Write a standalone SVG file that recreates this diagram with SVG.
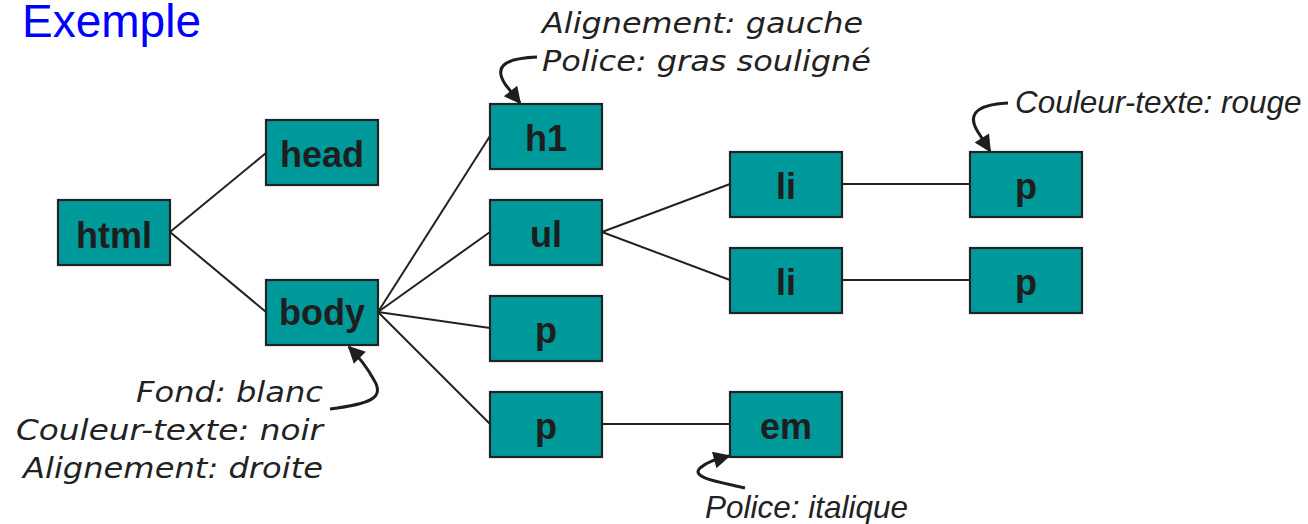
<svg xmlns="http://www.w3.org/2000/svg" width="1308" height="524" viewBox="0 0 1308 524">
<style>
.box{fill:#009999;stroke:#222;stroke-width:2.2}
.lbl{font-family:"Liberation Sans",Arial,sans-serif;font-weight:bold;font-size:36px;fill:#1e1e1e;text-anchor:middle}
.edge{stroke:#222;stroke-width:2;fill:none}
.ann{font-family:"DejaVu Sans",Verdana,sans-serif;font-style:italic;font-size:28px;fill:#222}
.ann2{font-family:"Liberation Sans",Arial,sans-serif;font-style:italic;font-size:31.5px;fill:#222}
.callout{stroke:#1e1e1e;stroke-width:3;fill:none}
</style>
<defs>
<marker id="ah" viewBox="0 0 10 10" refX="9" refY="5" markerWidth="19" markerHeight="17" markerUnits="userSpaceOnUse" orient="auto">
<path d="M0,0 L10,5 L0,10 Z" fill="#1e1e1e"/>
</marker>
</defs>
<text x="22" y="37" font-family="Liberation Sans,Arial,sans-serif" font-size="46" fill="#0000ff">Exemple</text>
<g id="connectors">
<line class="edge" x1="170" y1="232" x2="266" y2="153"/>
<line class="edge" x1="170" y1="232" x2="266" y2="312"/>
<line class="edge" x1="378" y1="312" x2="490" y2="136"/>
<line class="edge" x1="378" y1="312" x2="490" y2="232"/>
<line class="edge" x1="378" y1="312" x2="490" y2="328"/>
<line class="edge" x1="378" y1="312" x2="490" y2="424"/>
<line class="edge" x1="602" y1="232" x2="730" y2="184"/>
<line class="edge" x1="602" y1="232" x2="730" y2="280"/>
<line class="edge" x1="842" y1="184" x2="970" y2="184"/>
<line class="edge" x1="842" y1="280" x2="970" y2="280"/>
<line class="edge" x1="602" y1="424" x2="730" y2="424"/>
</g>
<g id="n-html"><rect class="box" x="58" y="200" width="112" height="65"/><text class="lbl" x="114" y="248">html</text></g>
<g id="n-head"><rect class="box" x="266" y="120" width="112" height="65"/><text class="lbl" x="322" y="167">head</text></g>
<g id="n-body"><rect class="box" x="266" y="280" width="112" height="65"/><text class="lbl" x="322" y="325">body</text></g>
<g id="n-h1"><rect class="box" x="490" y="104" width="112" height="65"/><text class="lbl" x="546" y="151">h1</text></g>
<g id="n-ul"><rect class="box" x="490" y="200" width="112" height="65"/><text class="lbl" x="546" y="247">ul</text></g>
<g id="n-p1"><rect class="box" x="490" y="296" width="112" height="65"/><text class="lbl" x="546" y="343">p</text></g>
<g id="n-p2"><rect class="box" x="490" y="392" width="112" height="65"/><text class="lbl" x="546" y="439">p</text></g>
<g id="n-li1"><rect class="box" x="730" y="152" width="112" height="65"/><text class="lbl" x="786" y="199">li</text></g>
<g id="n-li2"><rect class="box" x="730" y="248" width="112" height="65"/><text class="lbl" x="786" y="295">li</text></g>
<g id="n-em"><rect class="box" x="730" y="392" width="112" height="65"/><text class="lbl" x="786" y="439">em</text></g>
<g id="n-p3"><rect class="box" x="970" y="152" width="112" height="65"/><text class="lbl" x="1026" y="199">p</text></g>
<g id="n-p4"><rect class="box" x="970" y="248" width="112" height="65"/><text class="lbl" x="1026" y="295">p</text></g>
<g id="annotations">
<text class="ann" x="542" y="33" textLength="321" lengthAdjust="spacingAndGlyphs">Alignement: gauche</text>
<text class="ann" x="542" y="71" textLength="329" lengthAdjust="spacingAndGlyphs">Police: gras souligné</text>
<path class="callout" d="M537,57 C510,58 492,64 505,84 L520,103" marker-end="url(#ah)"/>
<text class="ann2" x="1015" y="113">Couleur-texte: rouge</text>
<path class="callout" d="M1008,103 C985,104 964,110 978,132 L990,151" marker-end="url(#ah)"/>
<text class="ann" x="323" y="402" text-anchor="end" textLength="187" lengthAdjust="spacingAndGlyphs">Fond: blanc</text>
<text class="ann" x="323" y="440" text-anchor="end" textLength="307" lengthAdjust="spacingAndGlyphs">Couleur-texte: noir</text>
<text class="ann" x="323" y="478" text-anchor="end" textLength="300" lengthAdjust="spacingAndGlyphs">Alignement: droite</text>
<path class="callout" d="M330,409 C370,404 385,398 374,380 C368,369 358,356 349,347" marker-end="url(#ah)"/>
<text class="ann2" x="705" y="518">Police: italique</text>
<path class="callout" d="M745,488 C720,482 690,478 700,468 C708,461 718,459 729,456" marker-end="url(#ah)"/>
</g>
</svg>
